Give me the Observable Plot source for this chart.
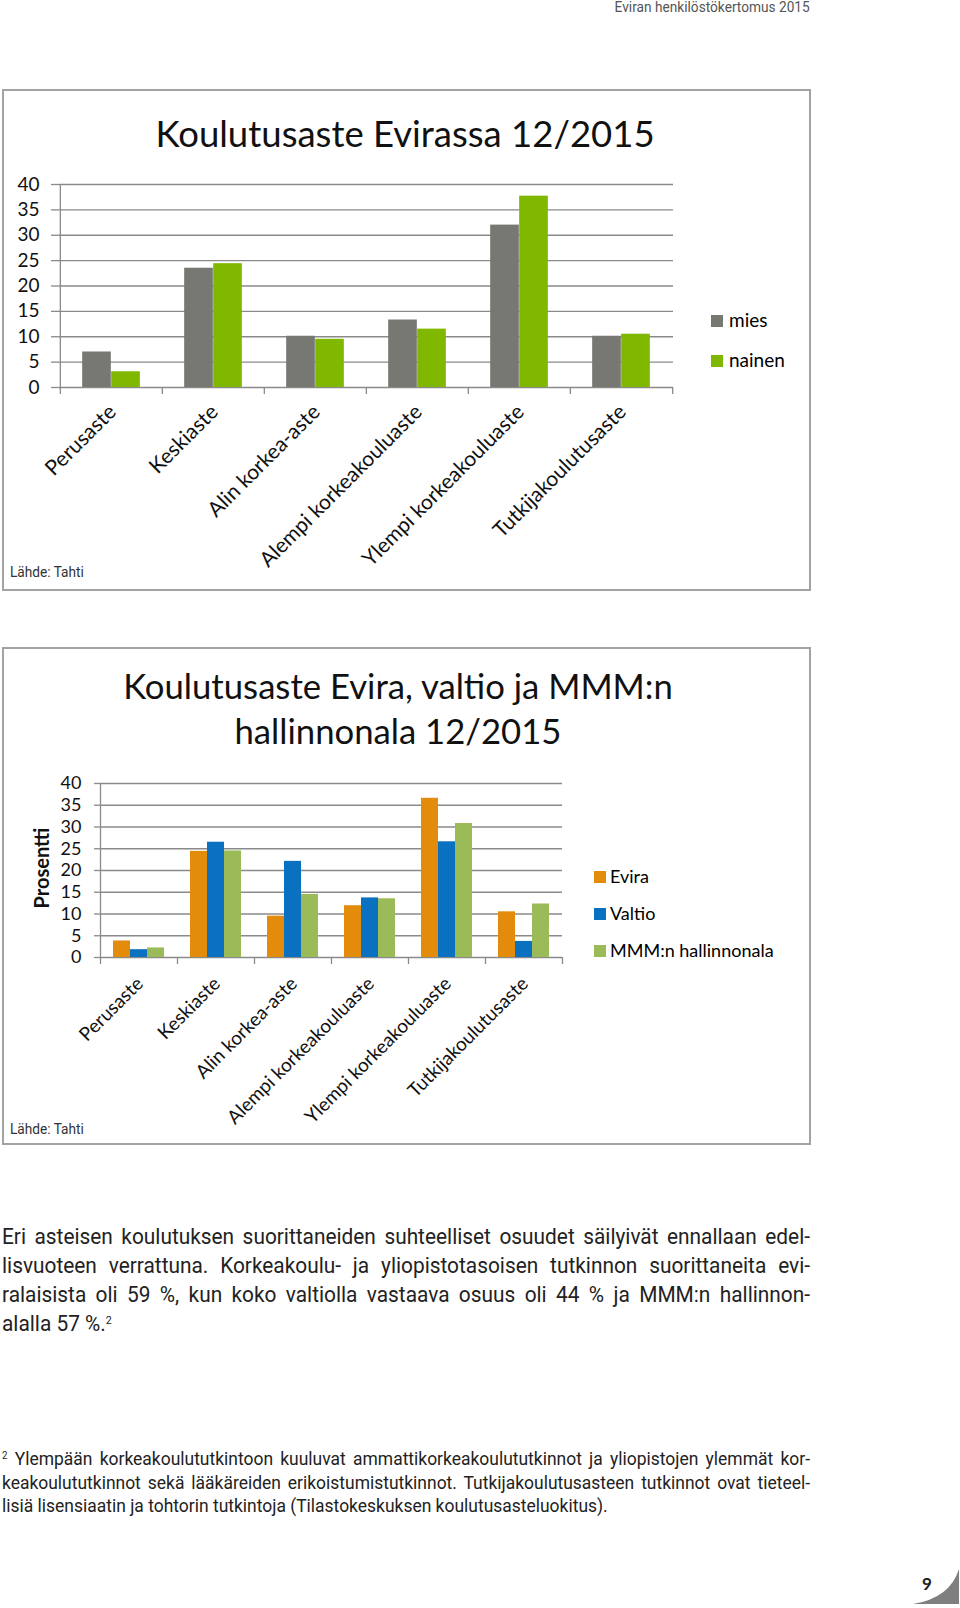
<!DOCTYPE html>
<html><head><meta charset="utf-8">
<script src="https://cdn.jsdelivr.net/npm/d3@7"></script>
<script src="https://cdn.jsdelivr.net/npm/@observablehq/plot@0.6"></script>
<style>
html,body{margin:0;padding:0;background:#fff;}
body{width:960px;height:1608px;position:relative;overflow:hidden;font-family:Lato,"Open Sans",sans-serif;color:#000;}
.abs{position:absolute;white-space:nowrap;}
.box{position:absolute;border:2px solid #a3a3a3;box-sizing:border-box;}
.title{font-family:Lato,sans-serif;line-height:34px;text-align:center;color:#111;}
.leg{font-size:19px;line-height:19px;}
.sw{position:absolute;width:12px;height:12px;}
.cond{font-family:Roboto,sans-serif;transform-origin:0 0;}
.lines p{margin:0;font-family:Roboto,sans-serif;color:#222;white-space:nowrap;transform-origin:0 0;}
.body p{height:29px;line-height:29px;font-size:21.5px;}
.foot p{height:23.5px;line-height:23.5px;font-size:18px;}
sup{line-height:0;vertical-align:0;position:relative;top:-0.6em;}
svg{overflow:visible;}
</style>
</head><body>
<div class="abs cond" style="right:150px;top:-1px;font-size:14px;line-height:16px;color:#555;transform-origin:100% 0;transform:scaleX(0.977);">Eviran henkilöstökertomus 2015</div>

<div class="box" style="left:2px;top:89px;width:809px;height:502px;"></div>
<div class="abs title" style="left:0;width:810px;top:116px;font-size:36.5px;">Koulutusaste Evirassa 12/2015</div>
<div id="c1" class="abs" style="left:0;top:150px;"></div>
<div id="leg1"></div>
<div class="abs cond" style="left:10px;top:563px;font-size:15px;line-height:18px;color:#333;transform:scaleX(0.91);">Lähde: Tahti</div>

<div class="box" style="left:2px;top:647px;width:809px;height:498px;"></div>
<div class="abs title" style="left:0;width:796px;top:669px;font-size:34.7px;">Koulutusaste Evira, valtio ja MMM:n</div>
<div class="abs title" style="left:0;width:796px;top:714px;font-size:34.7px;">hallinnonala 12/2015</div>
<div id="c2" class="abs" style="left:0;top:740px;"></div>
<div id="leg2"></div>
<div class="abs" style="left:41px;top:868px;transform:translate(-50%,-50%) rotate(-90deg);font-weight:700;font-size:20px;line-height:22px;color:#111;">Prosentti</div>
<div class="abs cond" style="left:10px;top:1120px;font-size:15px;line-height:18px;color:#333;transform:scaleX(0.91);">Lähde: Tahti</div>

<div class="abs lines body" style="left:2px;top:1222px;width:808px;">
<p class="j">Eri asteisen koulutuksen suorittaneiden suhteelliset osuudet säilyivät ennallaan edel-</p>
<p class="j">lisvuoteen verrattuna. Korkeakoulu- ja yliopistotasoisen tutkinnon suorittaneita evi-</p>
<p class="j">ralaisista oli 59 %, kun koko valtiolla vastaava osuus oli 44 % ja MMM:n hallinnon-</p>
<p class="l">alalla 57 %.<sup style="font-size:11px;">2</sup></p>
</div>

<div class="abs lines foot" style="left:2px;top:1447px;width:808px;">
<p class="j"><sup style="font-size:10px;">2</sup> Ylempään korkeakoulututkintoon kuuluvat ammattikorkeakoulututkinnot ja yliopistojen ylemmät kor-</p>
<p class="j">keakoulututkinnot sekä lääkäreiden erikoistumistutkinnot. Tutkijakoulutusasteen tutkinnot ovat tieteel-</p>
<p class="l">lisiä lisensiaatin ja tohtorin tutkintoja (Tilastokeskuksen koulutusasteluokitus).</p>
</div>

<svg class="abs" style="left:0;top:0;" width="960" height="1608" pointer-events="none">
<path d="M913,1604 Q950,1598 959,1569 L959,1604 Z" fill="#7f7f7f"/>
<text x="927" y="1590" text-anchor="middle" font-family="Lato" font-weight="700" font-size="17" fill="#222">9</text>
</svg>

<script>
// ---- data ----
const categories = ["Perusaste","Keskiaste","Alin korkea-aste","Alempi korkeakouluaste","Ylempi korkeakouluaste","Tutkijakoulutusaste"];
const genderSeries = ["mies","nainen"];
const mies   = [7.0, 23.5, 10.1, 13.3, 32.0, 10.1];
const nainen = [3.1, 24.4, 9.5, 11.5, 37.7, 10.5];
const orgSeries = ["Evira","Valtio","MMM:n hallinnonala"];
const evira  = [3.8, 24.4, 9.5, 11.9, 36.6, 10.5];
const valtio = [1.8, 26.5, 22.1, 13.7, 26.6, 3.7];
const mmm    = [2.2, 24.5, 14.5, 13.5, 30.8, 12.3];
const yTicks = [0, 5, 10, 15, 20, 25, 30, 35, 40];

function groupedChart(o) {
  const rows = [];
  o.series.forEach((s, si) => o.values[si].forEach((v, ci) => rows.push({cat: categories[ci], series: s, value: v})));
  const plotW = o.width - o.margins.left - o.margins.right;
  const bw = plotW / categories.length;
  const groupW = o.barW * o.series.length;
  const marks = [
    Plot.gridY(yTicks, {stroke: o.gridColor, strokeOpacity: 1, strokeWidth: 1.3}),
    Plot.axisY(yTicks, {tickSize: o.yTickSize, tickPadding: o.yTickPadding, stroke: o.gridColor, strokeWidth: 1.3, fontSize: o.yFont, fill: "#111", label: null}),
    Plot.ruleX([categories[0]], {dx: -bw / 2, y1: 0, y2: 40, stroke: o.gridColor, strokeWidth: 1.3})
  ];
  o.series.forEach((s, si) => {
    const left = (bw - groupW) / 2 + si * o.barW;
    marks.push(Plot.barY(rows.filter(r => r.series === s), {x: "cat", y: "value", fill: "series", insetLeft: left, insetRight: bw - left - o.barW}));
  });
  marks.push(
    Plot.axisX({tickSize: 7, dx: -bw / 2, stroke: o.gridColor, strokeWidth: 1.3, fill: "none", label: null}),
    Plot.axisX([categories[categories.length - 1]], {tickSize: 7, dx: bw / 2, stroke: o.gridColor, strokeWidth: 1.3, fill: "none", label: null}),
    Plot.axisX({tickSize: 0, tickRotate: -45, tickPadding: o.xPad, dx: o.xDx, fontSize: o.xFont, fill: "#111", label: null})
  );
  return Plot.plot({
    width: o.width, height: o.height,
    marginLeft: o.margins.left, marginRight: o.margins.right, marginTop: o.margins.top, marginBottom: o.margins.bottom,
    style: {fontFamily: "Lato, sans-serif", color: "#111", background: "transparent", overflow: "visible"},
    x: {domain: categories, padding: 0},
    y: {domain: [0, 40]},
    color: {domain: o.series, range: o.colors},
    marks
  });
}

function legend(id, series, colors, x, y0, step, font, gap) {
  const el = document.getElementById(id);
  series.forEach((s, i) => {
    const cy = y0 + i * step;
    const sw = document.createElement("div");
    sw.className = "sw";
    sw.style.left = x + "px"; sw.style.top = (cy - 6) + "px"; sw.style.background = colors[i];
    el.appendChild(sw);
    const t = document.createElement("div");
    t.className = "abs leg";
    t.style.left = (x + gap) + "px"; t.style.top = (cy - 11) + "px"; t.style.fontSize = font + "px"; t.style.lineHeight = "20px";
    t.textContent = s;
    el.appendChild(t);
  });
}

const colors1 = ["#787872", "#80b800"];
const colors2 = ["#e38b0a", "#0a70c0", "#9bbb59"];

document.getElementById("c1").appendChild(groupedChart({
  series: genderSeries, values: [mies, nainen], colors: colors1,
  width: 700, height: 460, margins: {top: 34, left: 59, right: 27, bottom: 223},
  barW: 29, gridColor: "#8a8a8a", yFont: 19, yTickSize: 8, yTickPadding: 12, xFont: 21, xPad: 21, xDx: 1
}));
legend("leg1", genderSeries, colors1, 711, 321, 40, 19, 18);

document.getElementById("c2").appendChild(groupedChart({
  series: orgSeries, values: [evira, valtio, mmm], colors: colors2,
  width: 600, height: 400, margins: {top: 43, left: 100, right: 38, bottom: 183},
  barW: 17, gridColor: "#8a8a8a", yFont: 18, yTickSize: 6, yTickPadding: 13, xFont: 19, xPad: 23, xDx: 1
}));
legend("leg2", orgSeries, colors2, 594, 877, 37, 18, 16);

// fit text lines: condense slightly, then justify to the column width
const colW = 808;
document.querySelectorAll(".lines p").forEach(p => {
  const span = document.createElement("span");
  while (p.firstChild) span.appendChild(p.firstChild);
  p.appendChild(span);
  const w = span.getBoundingClientRect().width;
  const s = Math.min(0.97, (colW - 2) / w);
  p.style.transform = `scaleX(${s})`;
  p.style.width = (colW / s) + "px";
  if (p.classList.contains("j")) {
    p.style.whiteSpace = "normal";
    p.style.textAlign = "justify";
    p.style.textAlignLast = "justify";
  }
});
</script>
</body></html>
